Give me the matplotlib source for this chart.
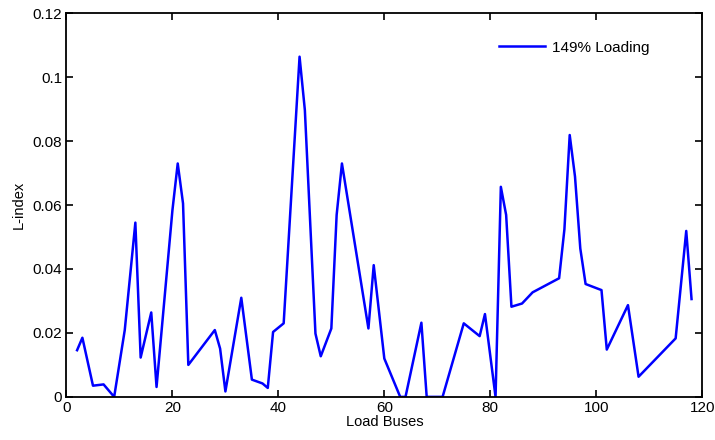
import matplotlib
matplotlib.use('Agg')
import matplotlib.pyplot as plt

plt.rcParams['font.family'] = ['Liberation Sans', 'DejaVu Sans']

# L-index of the load buses at 149% loading
buses = [2, 3, 5, 7, 9, 11, 13, 14, 16, 17, 20, 21, 22, 23, 28, 29, 30, 33, 35,
         37, 38, 39, 41, 44, 45, 47, 48, 50, 51, 52, 57, 58, 60, 63, 64, 67, 68,
         71, 75, 78, 79, 81, 82, 83, 84, 86, 88, 93, 94, 95, 96, 97, 98, 101,
         102, 106, 108, 115, 117, 118]
l_index = [0.0146, 0.0185, 0.0035, 0.0039, 0.0, 0.0209, 0.0545, 0.0123, 0.0264,
           0.0031, 0.0584, 0.0730, 0.0605, 0.0100, 0.0209, 0.0151, 0.0017, 0.0310,
           0.0054, 0.0042, 0.0028, 0.0203, 0.0230, 0.1064, 0.0897, 0.0198, 0.0127,
           0.0214, 0.0569, 0.0730, 0.0214, 0.0412, 0.0120, 0.0, 0.0, 0.0232, 0.0,
           0.0, 0.0230, 0.0190, 0.0259, 0.0, 0.0657, 0.0569, 0.0282, 0.0292,
           0.0327, 0.0371, 0.0524, 0.0819, 0.0689, 0.0464, 0.0353, 0.0334,
           0.0148, 0.0287, 0.0063, 0.0183, 0.0519, 0.0306]

fig = plt.figure(figsize=(7.15, 4.4), dpi=100)
ax = fig.add_axes([0.093, 0.098, 0.889, 0.872])

ax.plot(buses, l_index, color='#0000ff', linewidth=1.8, label='149% Loading')

ax.set_xlim(0, 120)
ax.set_ylim(0, 0.12)
ax.set_xticks(range(0, 121, 20))
ax.set_yticks([0, 0.02, 0.04, 0.06, 0.08, 0.1, 0.12])
ax.set_yticklabels(['0', '0.02', '0.04', '0.06', '0.08', '0.1', '0.12'])
ax.tick_params(direction='in', top=True, right=True, length=5, width=1.2,
               labelsize=11, pad=3)
for s in ax.spines.values():
    s.set_linewidth(1.3)

ax.set_xlabel('Load Buses', fontsize=10.5, labelpad=0)
ax.set_ylabel('L-index', fontsize=10.5, labelpad=5)

ax.legend(loc='upper right', frameon=False, fontsize=11, handlelength=3.0,
          handletextpad=0.45, bbox_to_anchor=(0.939, 0.964))

fig.savefig('out.png', dpi=100)
